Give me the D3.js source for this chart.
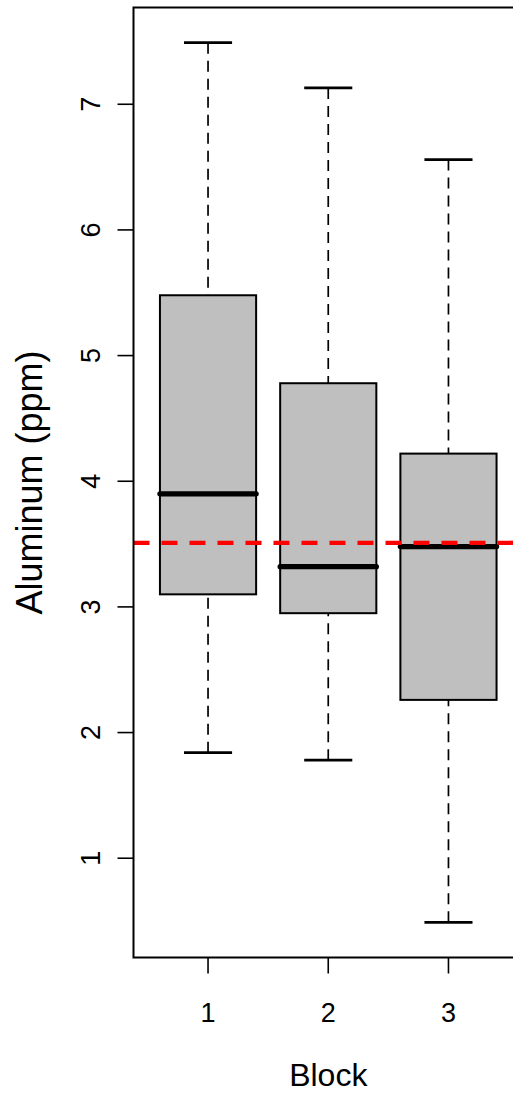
<!DOCTYPE html>
<html>
<head>
<meta charset="utf-8">
<script src="https://cdn.jsdelivr.net/npm/d3@7"></script>
<style>
  body { margin: 0; background: #fff; }
  svg { display: block; font-family: 'Liberation Sans', Arial, sans-serif; }
</style>
</head>
<body>
<script>
// boxplot stats per block
const blocks = ['1', '2', '3'];
const whiskerLow = [1.84, 1.78, 0.49];
const lowerQuartile = [3.10, 2.95, 2.26];
const medians = [3.90, 3.32, 3.48];
const upperQuartile = [5.48, 4.78, 4.22];
const whiskerHigh = [7.49, 7.13, 6.56];
const referenceLevel = 3.51;
const yTicks = [1, 2, 3, 4, 5, 6, 7];

const width = 513;
const height = 1095;
const plot = {
  left: 133.5, top: 7.5, right: 523, bottom: 957.5,
};

const data = blocks.map((b, i) => ({
  block: b,
  pos: i + 1,
  lo: whiskerLow[i],
  q1: lowerQuartile[i],
  med: medians[i],
  q3: upperQuartile[i],
  hi: whiskerHigh[i],
}));

// R-style 4% padding around the data range
const yMin = d3.min(whiskerLow);
const yMax = d3.max(whiskerHigh);
const pad = (yMax - yMin) * 0.04;

const x = d3.scaleLinear()
  .domain([0.5 - 0.12, blocks.length + 0.5 + 0.12])
  .range([plot.left, plot.right]);

const y = d3.scaleLinear()
  .domain([yMin - pad, yMax + pad])
  .range([plot.bottom, plot.top]);

const unit = x(2) - x(1);
const boxHalf = unit * 0.4;
const capHalf = boxHalf / 2;

const svg = d3.select('body').append('svg')
  .attr('width', width)
  .attr('height', height);

const g = svg.selectAll('.box')
  .data(data)
  .enter().append('g')
  .attr('class', 'box');

// whiskers, drawn from the end toward the box
g.append('line')
  .attr('x1', d => x(d.pos))
  .attr('x2', d => x(d.pos))
  .attr('y1', d => y(d.hi))
  .attr('y2', d => y(d.q3))
  .attr('stroke', '#000')
  .attr('stroke-width', 1.7)
  .attr('stroke-dasharray', '11,7');

g.append('line')
  .attr('x1', d => x(d.pos))
  .attr('x2', d => x(d.pos))
  .attr('y1', d => y(d.lo))
  .attr('y2', d => y(d.q1))
  .attr('stroke', '#000')
  .attr('stroke-width', 1.7)
  .attr('stroke-dasharray', '11,7');

// staples
g.selectAll('.cap')
  .data(d => [d.lo, d.hi].map(v => ({ pos: d.pos, v })))
  .enter().append('line')
  .attr('class', 'cap')
  .attr('x1', d => x(d.pos) - capHalf)
  .attr('x2', d => x(d.pos) + capHalf)
  .attr('y1', d => y(d.v))
  .attr('y2', d => y(d.v))
  .attr('stroke', '#000')
  .attr('stroke-width', 2.8);

g.append('rect')
  .attr('x', d => x(d.pos) - boxHalf)
  .attr('width', boxHalf * 2)
  .attr('y', d => y(d.q3))
  .attr('height', d => y(d.q1) - y(d.q3))
  .attr('fill', '#bfbfbf')
  .attr('stroke', '#000')
  .attr('stroke-width', 2);

g.append('line')
  .attr('x1', d => x(d.pos) - boxHalf)
  .attr('x2', d => x(d.pos) + boxHalf)
  .attr('y1', d => y(d.med))
  .attr('y2', d => y(d.med))
  .attr('stroke', '#000')
  .attr('stroke-width', 5.3)
  .attr('stroke-linecap', 'round');

// reference line
svg.append('line')
  .attr('x1', plot.left)
  .attr('x2', plot.right)
  .attr('y1', y(referenceLevel))
  .attr('y2', y(referenceLevel))
  .attr('stroke', '#ff0000')
  .attr('stroke-width', 4.3)
  .attr('stroke-dasharray', '16,12');

// frame
svg.append('rect')
  .attr('x', plot.left)
  .attr('y', plot.top)
  .attr('width', plot.right - plot.left)
  .attr('height', plot.bottom - plot.top)
  .attr('fill', 'none')
  .attr('stroke', '#000')
  .attr('stroke-width', 2);

// y axis
const yAxis = svg.append('g');
yAxis.selectAll('line')
  .data(yTicks)
  .enter().append('line')
  .attr('x1', plot.left - 16)
  .attr('x2', plot.left)
  .attr('y1', d => y(d))
  .attr('y2', d => y(d))
  .attr('stroke', '#000')
  .attr('stroke-width', 1.6);

yAxis.selectAll('text')
  .data(yTicks)
  .enter().append('text')
  .attr('transform', d => `translate(100,${y(d)}) rotate(-90)`)
  .attr('text-anchor', 'middle')
  .attr('font-size', 27)
  .text(d => d);

// x axis
const xAxis = svg.append('g');
xAxis.selectAll('line')
  .data(data)
  .enter().append('line')
  .attr('x1', d => x(d.pos))
  .attr('x2', d => x(d.pos))
  .attr('y1', plot.bottom)
  .attr('y2', plot.bottom + 16)
  .attr('stroke', '#000')
  .attr('stroke-width', 1.6);

xAxis.selectAll('text')
  .data(data)
  .enter().append('text')
  .attr('x', d => x(d.pos))
  .attr('y', 1021.5)
  .attr('text-anchor', 'middle')
  .attr('font-size', 27)
  .text(d => d.block);

svg.append('text')
  .attr('x', (plot.left + plot.right) / 2)
  .attr('y', 1086)
  .attr('text-anchor', 'middle')
  .attr('font-size', 32)
  .text('Block');

svg.append('text')
  .attr('transform', `translate(42,${(plot.top + plot.bottom) / 2}) rotate(-90)`)
  .attr('text-anchor', 'middle')
  .attr('font-size', 36)
  .text('Aluminum (ppm)');
</script>
</body>
</html>
